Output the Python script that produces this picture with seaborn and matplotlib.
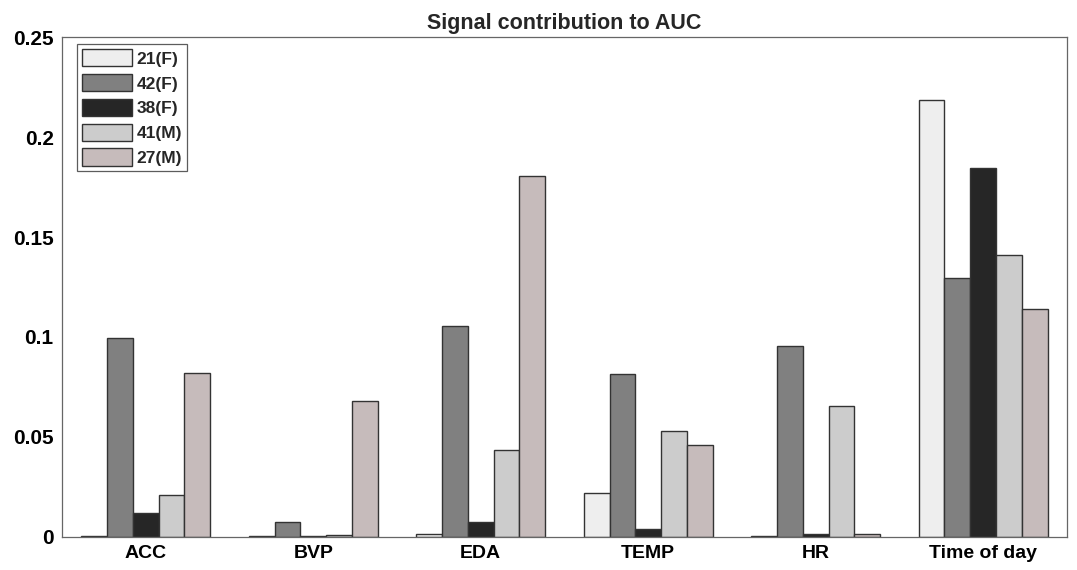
import numpy as np
import pandas as pd
import seaborn as sns
import matplotlib.pyplot as plt

signals = ['ACC', 'BVP', 'EDA', 'TEMP', 'HR', 'Time of day']
subjects = ['21(F)', '42(F)', '38(F)', '41(M)', '27(M)']

v_21F = [0.0005, 0.0005, 0.0015, 0.022, 0.0005, 0.2185]
v_42F = [0.0995, 0.0075, 0.1055, 0.0815, 0.0955, 0.1295]
v_38F = [0.012, 0.0005, 0.0075, 0.004, 0.0015, 0.1845]
v_41M = [0.021, 0.001, 0.0435, 0.053, 0.0655, 0.141]
v_27M = [0.082, 0.068, 0.1805, 0.046, 0.0015, 0.114]

palette = {'21(F)': '#eeeeee', '42(F)': '#808080', '38(F)': '#262626',
           '41(M)': '#cccccc', '27(M)': '#c8b9b9'}

rows = []
for subj, vals in zip(subjects, [v_21F, v_42F, v_38F, v_41M, v_27M]):
    for s, v in zip(signals, vals):
        rows.append({'signal': s, 'subject': subj, 'value': v})
df = pd.DataFrame(rows)

sns.set_style('white')
plt.rcParams['font.family'] = ['Liberation Sans', 'DejaVu Sans']

fig = plt.figure(figsize=(10.77, 5.70), dpi=100)
ax = fig.add_axes([0.0576, 0.058, 0.933, 0.877])

sns.barplot(data=df, x='signal', y='value', hue='subject', order=signals,
            hue_order=subjects, palette=palette, width=0.77, gap=0,
            edgecolor='#333333', linewidth=1.0, errorbar=None, ax=ax)

ax.set_xlim(-0.5, 5.5)
ax.set_ylim(0, 0.25)
ax.set_yticks([0, 0.05, 0.1, 0.15, 0.2, 0.25])
ax.set_yticklabels(['0', '0.05', '0.1', '0.15', '0.2', '0.25'])
ax.set_xlabel('')
ax.set_ylabel('')
ax.set_title('Signal contribution to AUC', fontsize=15.5, fontweight='bold', pad=6)
ax.tick_params(axis='y', labelsize=15)
ax.tick_params(axis='x', labelsize=14)
ax.tick_params(axis='both', direction='in', length=5, width=0.8, colors='#555555',
               labelcolor='black', pad=6)
for lab in ax.get_xticklabels() + ax.get_yticklabels():
    lab.set_fontweight('bold')
for sp in ax.spines.values():
    sp.set_visible(True)
    sp.set_color('#666666')
    sp.set_linewidth(0.9)

leg = ax.legend(loc='upper left', bbox_to_anchor=(0.0145, 0.986),
                prop={'weight': 'bold', 'size': 12.5}, frameon=True, fancybox=False,
                handlelength=2.9, handleheight=1.15, handletextpad=0.25,
                labelspacing=0.42, borderpad=0.3, borderaxespad=0)
leg.get_frame().set_edgecolor('#333333')
leg.get_frame().set_linewidth(0.9)

fig.savefig('out.png', dpi=100)
